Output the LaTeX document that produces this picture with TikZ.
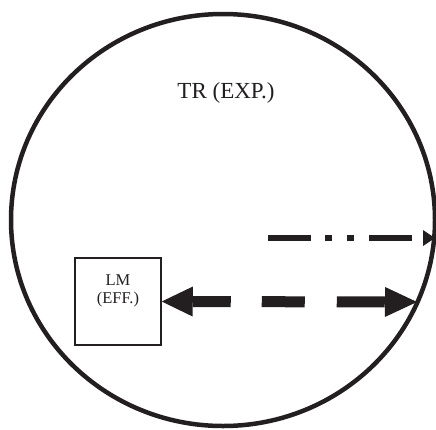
\documentclass[tikz,border=0pt]{standalone}
\usepackage{fontspec}
\setmainfont{Liberation Serif}
\usetikzlibrary{arrows.meta,shapes.geometric}
\definecolor{ink}{HTML}{231F20}
\begin{document}
\begin{tikzpicture}[x=1pt,y=-1pt,
  rim/.style={draw=ink,line width=4.5pt,ellipse,inner sep=0pt},
  boxst/.style={draw=ink,line width=1.5pt,inner sep=0pt},
  txt/.style={text=ink,anchor=base,inner sep=0pt},
  bigarrow/.style={draw=ink,line width=11pt,
    dash pattern=on 38pt off 31pt on 43pt off 32pt on 48pt off 20pt,
    {Triangle[length=31pt,width=30pt,line width=0pt]}-{Triangle[length=32pt,width=30pt,line width=0pt]}},
  thinarrow/.style={draw=ink,line width=6pt,
    dash pattern=on 43pt off 14pt on 7pt off 15pt on 7pt off 15pt on 43pt off 30pt,
    -{Triangle[length=12pt,width=16pt,line width=0pt]}}]
\useasboundingbox (0,0) rectangle (436,429);
\node[rim,minimum width=424pt,minimum height=412pt] (tr) at (223,220) {};
\node[txt] (trlabel) at (226,98) {\fontsize{23}{27}\selectfont TR (EXP.)};
\node[boxst,minimum width=86pt,minimum height=87pt] (lm) at (118,301.5) {};
\node[txt] (lm1) at (118,285) {\fontsize{16.5}{18}\selectfont LM};
\node[txt] (lm2) at (118,303) {\fontsize{16.5}{18}\selectfont (EFF.)};
\coordinate (rimA) at (417,302);
\coordinate (ddstart) at (268,238);
\coordinate (rimB) at (435,238);
\draw[bigarrow] (lm.east) -- (rimA);
\draw[thinarrow] (ddstart) -- (rimB);
\end{tikzpicture}
\end{document}
